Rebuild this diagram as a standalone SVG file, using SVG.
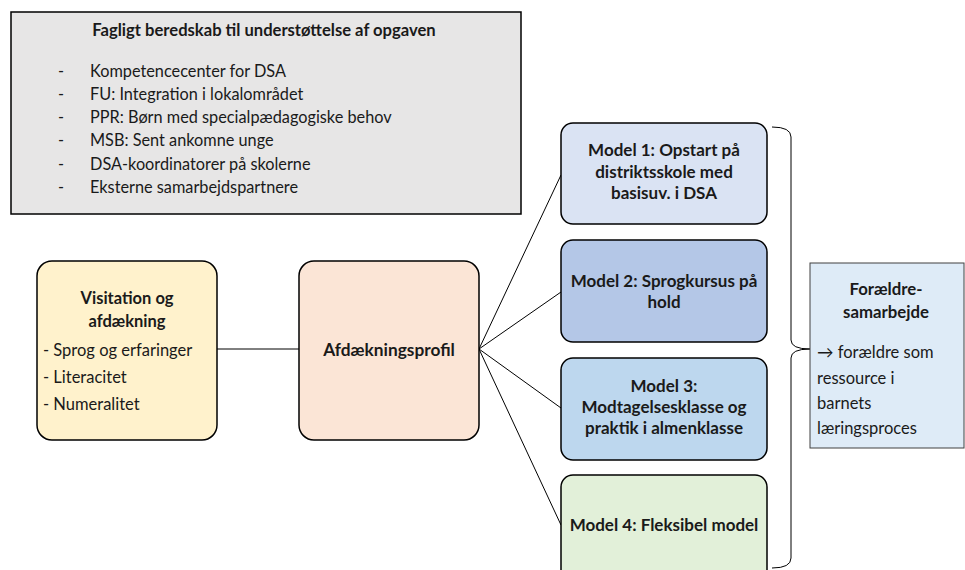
<svg xmlns="http://www.w3.org/2000/svg" width="965" height="570" viewBox="0 0 965 570">
<style>
text{font-family:Lato,"Open Sans","Liberation Sans",sans-serif;fill:#1a1a1a}
.b{font-weight:bold}
.c{text-anchor:middle}
.box{stroke:#000;stroke-width:1.5}
.conn{stroke:#000;stroke-width:1;fill:none}
.item{font-size:16.3px}
.m{font-size:17px;font-weight:bold;text-anchor:middle}
</style>
<rect width="965" height="570" fill="#fff"/>
<g id="connectors">
<line class="conn" x1="217" y1="349" x2="299" y2="349"/>
<line class="conn" x1="479" y1="349" x2="561" y2="175"/>
<line class="conn" x1="479" y1="349" x2="561" y2="292"/>
<line class="conn" x1="479" y1="349" x2="561" y2="408"/>
<line class="conn" x1="479" y1="349" x2="561" y2="525"/>
<path class="conn" d="M772,127 Q791,127 791,137 L791,340 Q791,349 810,349 Q791,349 791,358 L791,558 Q791,568 772,568"/>
</g>
<g id="resources">
<rect class="box" x="11" y="12" width="510" height="202" fill="#e7e6e6"/>
<text class="b c" x="264" y="36" font-size="16.6">Fagligt beredskab til understøttelse af opgaven</text>
<g class="item">
<text x="58" y="77">-</text><text x="90" y="77">Kompetencecenter for DSA</text>
<text x="58" y="100">-</text><text x="90" y="100">FU: Integration i lokalområdet</text>
<text x="58" y="123">-</text><text x="90" y="123">PPR: Børn med specialpædagogiske behov</text>
<text x="58" y="146">-</text><text x="90" y="146">MSB: Sent ankomne unge</text>
<text x="58" y="170">-</text><text x="90" y="170">DSA-koordinatorer på skolerne</text>
<text x="58" y="193">-</text><text x="90" y="193">Eksterne samarbejdspartnere</text>
</g>
</g>
<g id="visitation">
<rect class="box" x="37" y="261" width="180" height="179" rx="15" fill="#fff2cc"/>
<text class="b c" x="127" y="304" font-size="16.5">Visitation og</text>
<text class="b c" x="127" y="327" font-size="16.5">afdækning</text>
<text x="43" y="356" font-size="16.5">- Sprog og erfaringer</text>
<text x="43" y="383" font-size="16.5">- Literacitet</text>
<text x="43" y="410" font-size="16.5">- Numeralitet</text>
</g>
<g id="profil">
<rect class="box" x="299" y="261" width="180" height="179" rx="15" fill="#fbe5d6"/>
<text class="b c" x="389" y="356" font-size="17.3">Afdækningsprofil</text>
</g>
<g id="model1">
<rect class="box" x="561" y="123" width="206" height="101" rx="12" fill="#dae3f3"/>
<text class="m" x="664" y="156">Model 1: Opstart på</text>
<text class="m" x="664" y="178">distriktsskole med</text>
<text class="m" x="664" y="199">basisuv. i DSA</text>
</g>
<g id="model2">
<rect class="box" x="561" y="240" width="206" height="102" rx="12" fill="#b4c7e7"/>
<text class="m" x="664" y="287">Model 2: Sprogkursus på</text>
<text class="m" x="664" y="308">hold</text>
</g>
<g id="model3">
<rect class="box" x="561" y="358" width="206" height="102" rx="12" fill="#bdd7ee"/>
<text class="m" x="664" y="392">Model 3:</text>
<text class="m" x="664" y="413">Modtagelsesklasse og</text>
<text class="m" x="664" y="434">praktik i almenklasse</text>
</g>
<g id="model4">
<rect class="box" x="561" y="475" width="206" height="115" rx="12" fill="#e2f0d9"/>
<text class="m" x="664" y="531">Model 4: Fleksibel model</text>
</g>
<g id="foraeldre">
<rect x="810" y="263" width="154" height="185" fill="#deebf7" stroke="#404040" stroke-width="1"/>
<text class="b c" x="886" y="295" font-size="16.8">Forældre-</text>
<text class="b c" x="886" y="318" font-size="16.8">samarbejde</text>
<text x="817" y="358" font-size="16.5">→ forældre som</text>
<text x="817" y="384" font-size="16.5">ressource i</text>
<text x="817" y="409" font-size="16.5">barnets</text>
<text x="817" y="434" font-size="16.5">læringsproces</text>
</g>
</svg>
